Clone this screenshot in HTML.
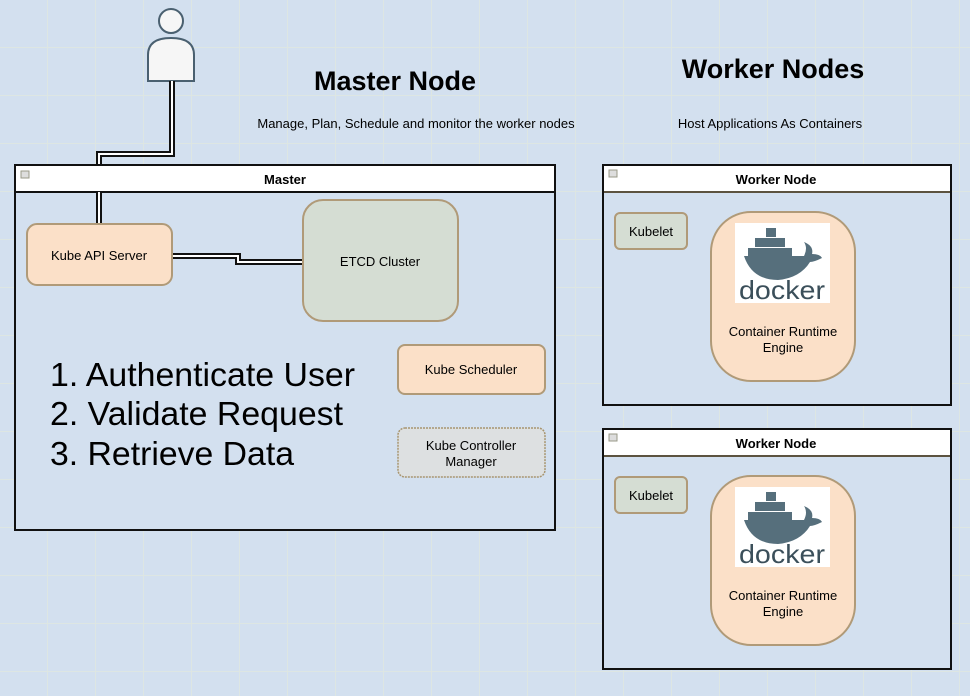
<!DOCTYPE html>
<html><head><meta charset="utf-8"><style>
html,body{margin:0;padding:0;background:#d3e0ef;}
svg{display:block;font-family:"Liberation Sans",sans-serif;}
</style></head><body>
<svg width="970" height="696" viewBox="0 0 970 696" xmlns="http://www.w3.org/2000/svg">
<defs>
<pattern id="g" width="48" height="48" patternUnits="userSpaceOnUse">
<path d="M48 0V48M0 48H48" stroke="#dde6e3" stroke-width="2" fill="none"/>
</pattern>
<g id="worker">
<rect x="603" y="165" width="348" height="240" fill="#d3e0ef" stroke="#111" stroke-width="2"/>
<rect x="603" y="165" width="348" height="27" fill="#fff" stroke="#111" stroke-width="2"/>
<line x1="604" y1="192" x2="950" y2="192" stroke="#a89570" stroke-width="1"/>
<rect x="609" y="170" width="8" height="7" fill="#ddd" stroke="#998" stroke-width="1"/>
<text x="776" y="184" font-size="13" font-weight="bold" text-anchor="middle">Worker Node</text>
<rect x="615" y="213" width="72" height="36" rx="5" fill="#d5ddd3" stroke="#b09a78" stroke-width="2"/>
<text x="651" y="236" font-size="13" text-anchor="middle">Kubelet</text>
<rect x="711" y="212" width="144" height="169" rx="40" fill="#fbe0c8" stroke="#b09a78" stroke-width="2"/>
<rect x="735" y="223" width="95" height="80" fill="#fff"/>
<g fill="#566f7c">
<rect x="766" y="228" width="10" height="9"/><rect x="755" y="238" width="30" height="9"/>
<rect x="748" y="248" width="44" height="8"/>
<path d="M744 256 H804 Q808 248 804 242 Q814 246 812 254 Q820 254 822 258 Q814 262 810 262 Q800 278 778 280 Q752 280 744 256Z"/>
</g>
<text x="782" y="299" font-size="26" fill="#3b4f5a" text-anchor="middle" textLength="86" lengthAdjust="spacingAndGlyphs">docker</text>
<text x="783" y="336" font-size="13" text-anchor="middle">Container Runtime</text>
<text x="783" y="352" font-size="13" text-anchor="middle">Engine</text>
</g>
</defs>
<rect width="970" height="696" fill="#d3e0ef"/>
<rect width="970" height="696" fill="url(#g)"/>

<!-- person -->
<circle cx="171" cy="21" r="12" fill="#f6f6f6" stroke="#4a6070" stroke-width="2"/>
<path d="M148 81 V55 Q148 38 171 38 Q194 38 194 55 V81 Z" fill="#f6f6f6" stroke="#4a6070" stroke-width="2"/>

<!-- connectors -->
<path d="M172 81 V154 H99 V224" fill="none" stroke="#111" stroke-width="6"/>
<path d="M172 81 V154 H99 V224" fill="none" stroke="#fff" stroke-width="2"/>

<!-- master -->
<rect x="15" y="165" width="540" height="365" fill="#d3e0ef" stroke="#111" stroke-width="2"/>
<rect x="15" y="165" width="540" height="27" fill="#fff" stroke="#111" stroke-width="2"/>
<rect x="21" y="171" width="8" height="7" fill="#ddd" stroke="#998" stroke-width="1"/>
<text x="285" y="184" font-size="13" font-weight="bold" text-anchor="middle">Master</text>
<path d="M99 192 V224" fill="none" stroke="#111" stroke-width="6"/>
<path d="M99 192 V224" fill="none" stroke="#fff" stroke-width="2"/>

<path d="M172 256 H238 V262 H303" fill="none" stroke="#111" stroke-width="6"/>
<path d="M172 256 H238 V262 H303" fill="none" stroke="#fff" stroke-width="2"/>

<rect x="27" y="224" width="145" height="61" rx="10" fill="#fbe0c8" stroke="#b09a78" stroke-width="2"/>
<text x="99" y="260" font-size="13" text-anchor="middle">Kube API Server</text>
<rect x="303" y="200" width="155" height="121" rx="20" fill="#d5ddd3" stroke="#b09a78" stroke-width="2"/>
<text x="380" y="266" font-size="13" text-anchor="middle">ETCD Cluster</text>
<rect x="398" y="345" width="147" height="49" rx="7" fill="#fbe0c8" stroke="#b09a78" stroke-width="2"/>
<text x="471" y="374" font-size="13" text-anchor="middle">Kube Scheduler</text>
<rect x="398" y="428" width="147" height="49" rx="7" fill="#dde0e1" stroke="#a89570" stroke-width="1.5" stroke-dasharray="2,1"/>
<text x="471" y="450" font-size="13" text-anchor="middle">Kube Controller</text>
<text x="471" y="466" font-size="13" text-anchor="middle">Manager</text>

<text x="50" y="386" font-size="33" textLength="305" lengthAdjust="spacingAndGlyphs">1. Authenticate User</text>
<text x="50" y="425" font-size="33" textLength="293" lengthAdjust="spacingAndGlyphs">2. Validate Request</text>
<text x="50" y="465" font-size="33" textLength="244" lengthAdjust="spacingAndGlyphs">3. Retrieve Data</text>

<text x="395" y="90" font-size="27" font-weight="bold" text-anchor="middle">Master Node</text>
<text x="416" y="128" font-size="13" text-anchor="middle">Manage, Plan, Schedule and monitor the worker nodes</text>
<text x="773" y="78" font-size="27" font-weight="bold" text-anchor="middle">Worker Nodes</text>
<text x="770" y="128" font-size="13" text-anchor="middle">Host Applications As Containers</text>

<use href="#worker"/>
<use href="#worker" transform="translate(0,264)"/>
</svg>
</body></html>
